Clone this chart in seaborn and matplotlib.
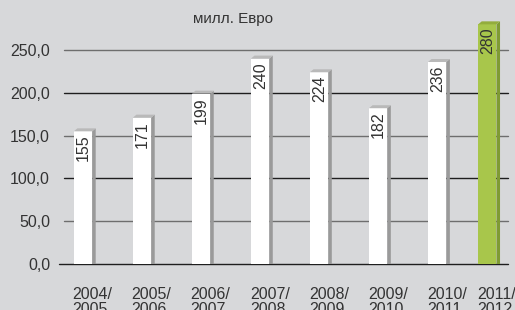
import matplotlib
matplotlib.use("Agg")
import matplotlib.pyplot as plt
import seaborn as sns
import pandas as pd
from matplotlib.patches import Polygon

# data
seasons = ["2004/\n2005", "2005/\n2006", "2006/\n2007", "2007/\n2008",
           "2008/\n2009", "2009/\n2010", "2010/\n2011", "2011/\n2012"]
values = [155, 171, 199, 240, 224, 182, 236, 280]
yticks = [0, 50, 100, 150, 200, 250]
ytick_labels = ["0,0", "50,0", "100,0", "150,0", "200,0", "250,0"]
title = "милл. Евро"

bg = "#d7d8da"
white_front = "#ffffff"
green_front = "#a8c64b"
txt = "#333333"
fs = 11.5

sns.set_theme(style="white")
plt.rcParams["font.family"] = ["Liberation Sans", "DejaVu Sans"]

df = pd.DataFrame({"season": seasons, "value": values})
colors = [white_front] * (len(values) - 1) + [green_front]

fig = plt.figure(figsize=(5.15, 3.1), dpi=100, facecolor=bg)
ax = fig.add_axes([64 / 515, 1 - 264 / 310, 444 / 515, 259 / 310])
ax.set_facecolor(bg)

# grid lines, alternating shades
for i, t in enumerate(yticks):
    c = "#1e1e1e" if i % 2 == 0 else "#6e6e6e"
    xmin = -0.012 if t == 0 else 0
    ax.axhline(t, xmin=xmin, xmax=1, color=c, lw=1.0, zorder=1, clip_on=False)

sns.barplot(data=df, x="season", y="value", hue="season", palette=colors,
            legend=False, width=0.31, saturation=1, ax=ax, zorder=3,
            edgecolor="none")

ax.set_xlim(-0.322, 7.2)
ax.set_ylim(0, 302.6)

# last bar sits slightly left in the original
ax.patches[-1].set_x(ax.patches[-1].get_x() - 0.15)

# fake 3D: side and top faces
dx = 0.06
dy = 3.5
for p, v, c in zip(ax.patches, values, colors):
    x0 = p.get_x()
    x1 = x0 + p.get_width()
    side_c = "#7f9b33" if c == green_front else "#9a9a9a"
    top_c = "#93ad3c" if c == green_front else "#b9b9b9"
    ax.add_patch(Polygon([(x1, 0), (x1 + dx, 0), (x1 + dx, v + dy), (x1, v)],
                         closed=True, fc=side_c, ec="none", zorder=3))
    ax.add_patch(Polygon([(x0, v), (x1, v), (x1 + dx, v + dy), (x0 + dx, v + dy)],
                         closed=True, fc=top_c, ec="none", zorder=3))
    ax.text(x0 + p.get_width() / 2 + 0.01, v - 4, str(v), rotation=90,
            ha="center", va="top", fontsize=fs, color=txt, zorder=4)

ax.set_yticks(yticks)
ax.set_yticklabels(ytick_labels, fontsize=fs, color=txt)
ax.tick_params(axis="y", length=0, pad=10)

# x labels start at the left edge of each bar
ax.set_xticks([p.get_x() - 0.02 for p in ax.patches[:len(seasons)]])
ax.set_xticklabels(seasons, fontsize=fs, color=txt, ha="left",
                   linespacing=0.97)
ax.tick_params(axis="x", length=0, pad=16.5)
ax.set_xlabel("")
ax.set_ylabel("")
for s in ax.spines.values():
    s.set_visible(False)

fig.text(233 / 515, 1 - 19 / 310, title, ha="center", va="center",
         fontsize=11, color=txt)

fig.savefig("out.png", dpi=100, facecolor=bg)
